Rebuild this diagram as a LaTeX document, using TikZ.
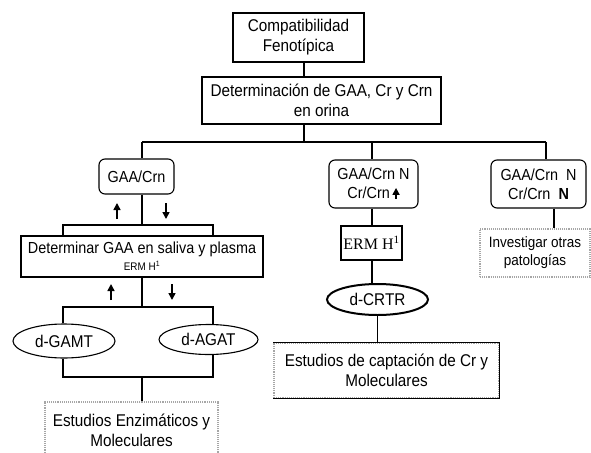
\documentclass[tikz,border=0pt]{standalone}
\usepackage{fontspec}
\setmainfont{Liberation Sans}[FakeStretch=0.9]
\newfontfamily\serifnum{Liberation Serif}
\usetikzlibrary{positioning,shapes.geometric,arrows.meta}
\tikzset{main box/.style={draw,line width=1.1pt,align=center,inner sep=0pt,font=\fontsize{17}{20}\selectfont},
	round box/.style={main box,rounded corners=6pt,font=\fontsize{16}{19}\selectfont},
	oval/.style={ellipse,draw,line width=1.1pt,inner sep=0pt,font=\fontsize{17}{20}\selectfont},
	dot box/.style={main box,draw=gray!70,densely dotted},
	updown/.style={-{Triangle[width=7pt,length=7pt]},line width=1.6pt},
}

\begin{document}
\begin{tikzpicture}[x=1pt,y=-1pt,line width=1.1pt]
			\useasboundingbox (0,0) rectangle (591,452);
			
			%% top
			\node[main box,minimum width=131pt,minimum height=49pt] (comp) at (298.5,37.5) {Compatibilidad\\Fenotípica};
			\node[main box,minimum width=239pt,minimum height=47pt] (det) at (321.5,100.5) {Determinación de GAA, Cr y Crn\\en orina};
			\coordinate (t) at (304,142);
			\coordinate (b1) at (142,142);
			\coordinate (b2) at (372,142);
			\coordinate (b3) at (546,142);
			
			%% three results
			\node[round box,minimum width=75pt,minimum height=35pt] (gaa) at (136.5,176.5) {GAA/Crn};
			\node[round box,minimum width=89pt,minimum height=48pt] (crn) at (373.5,184) {GAA/Crn N\\Cr/Crn\,\tikz[baseline=0pt]\draw[updown] (0,0) -- (0,11pt);};
			\node[round box,minimum width=95pt,minimum height=48pt] (nor) at (538.5,184) {GAA/Crn\ \ N\\Cr/Crn\ \ \textbf{N}};
			
			%% left
			\node[main box,minimum width=242pt,minimum height=41pt] (sal) at (142,256.5) {{\fontsize{16}{17}\selectfont Determinar GAA en saliva y plasma}\\[-3pt]{\fontsize{11}{13}\selectfont ERM H\textsuperscript{1}}};
			\node[oval,minimum width=102pt,minimum height=34pt] (gamt) at (64,341) {d-GAMT};
			\node[oval,minimum width=99pt,minimum height=30pt] (agat) at (208.5,339.5) {d-AGAT};
			\node[dot box,minimum width=173pt,minimum height=56pt] (enz) at (131.5,430) {Estudios Enzimáticos y\\Moleculares};
			
			%% middle
			\node[main box,font=\serifnum\fontsize{16}{19}\selectfont,minimum width=61pt,minimum height=34pt] (erm) at (371.5,243) {ERM H\textsuperscript{1}};
			\node[oval,line width=2pt,minimum width=101pt,minimum height=31pt] (crtr) at (377.5,299.5) {d-CRTR};
			\node[dot box,minimum width=225pt,minimum height=55pt] (capt) at (386.5,370.5) {Estudios de captación de Cr y\\Moleculares};
			
			%% right
			\node[dot box,font=\fontsize{15}{18}\selectfont,minimum width=110pt,minimum height=48pt] (inv) at (535,253) {Investigar otras\\patologías};
			
			\coordinate (l1) at (63,225);
			\coordinate (r1) at (213,225);
			\coordinate (l2) at (63,307);
			\coordinate (r2) at (213,307);
			\coordinate (l3) at (63,377);
			\coordinate (r3) at (213,377);
			\coordinate (rr) at (554,208);
			
			\path[draw]
			(comp.south -| t) edge (det.north -| t)
			(det.south -| t) edge (t)
			(b1) edge (b3)
			(b1) edge (b1 |- gaa.north)
			(b2) edge (b2 |- crn.north)
			(b3) edge (b3 |- nor.north)
			(crn.south -| b2) edge (erm.north -| b2)
			(erm.south -| b2) edge (b2 |- crtr.north)
			(crtr.south) edge (crtr.south |- capt.north)
			(nor.south -| rr) edge (inv.north -| rr)
			;
			\draw (capt.north west) -- (capt.north east) -- (capt.south east) -- (capt.south west);
			
			%% left brackets
			\draw (gaa.south -| b1) -- (b1 |- l1);
			\draw (l1 |- sal.north) -- (l1) -- (r1) -- (r1 |- sal.north);
			\draw (sal.south -| b1) -- (b1 |- l2);
			\draw (l2 |- gamt.north) -- (l2) -- (r2) -- (r2 |- agat.north);
			\draw (gamt.south -| l3) -- (l3) -- (r3) -- (agat.south -| r3);
			\draw (b1 |- l3) -- (b1 |- enz.north);
			
			%% up / down
			\draw[updown] (117,219) -- (117,203);
			\draw[updown] (166,203) -- (166,219);
			\draw[updown] (111,300) -- (111,284);
			\draw[updown] (172,284) -- (172,300);
			\end{tikzpicture}
\end{document}
